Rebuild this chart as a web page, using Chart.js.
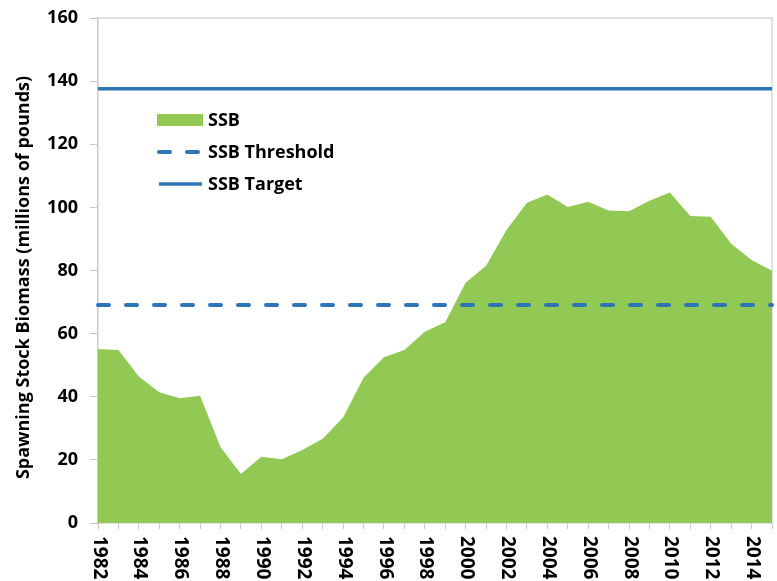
<!DOCTYPE html>
<html>
<head>
<meta charset="utf-8">
<script src="https://cdn.jsdelivr.net/npm/chart.js@4.4.0/dist/chart.umd.min.js"></script>
<style>
  html, body { margin: 0; padding: 0; background: #fff; }
  #wrap { width: 777px; height: 581px; }
</style>
</head>
<body>
<div id="wrap"><canvas id="ssbChart"></canvas></div>
<script>
const years = ['1982','1983','1984','1985','1986','1987','1988','1989','1990','1991','1992','1993','1994','1995','1996','1997','1998','1999','2000','2001','2002','2003','2004','2005','2006','2007','2008','2009','2010','2011','2012','2013','2014','2015'];
const ssb = [55.1,54.8,46.4,41.4,39.5,40.3,24.0,15.5,21.0,20.2,23.1,26.7,33.4,46.0,52.5,54.8,60.6,63.6,76.1,81.5,92.8,101.5,104.1,100.1,101.8,99.0,98.8,102.1,104.7,97.3,97.0,88.5,83.3,79.9];
const ssbThreshold = 69.1;
const ssbTarget = 137.6;
const yTicks = [0,20,40,60,80,100,120,140,160];

const labelFont = 'bold 18px "Open Sans"';
const xFont = 'bold 19px "Open Sans"';
const axisGray = '#c9c9c9';

// x labels read top-to-bottom, Chart.js rotates the other way so draw them here
const xLabelPlugin = {
  id: 'xLabels',
  afterDraw(chart) {
    const ctx = chart.ctx;
    const x = chart.scales.x;
    ctx.save();
    ctx.font = xFont;
    ctx.fillStyle = '#000';
    ctx.textAlign = 'left';
    ctx.textBaseline = 'middle';
    years.forEach((yr, i) => {
      if (i % 2) return;
      ctx.save();
      ctx.translate(x.getPixelForTick(i) + 1, x.top + 13);
      ctx.rotate(Math.PI / 2);
      ctx.fillText(yr, 0, 0);
      ctx.restore();
    });
    ctx.restore();
  }
};

const framePlugin = {
  id: 'frame',
  beforeDatasetsDraw(chart) {
    const a = chart.chartArea;
    const ctx = chart.ctx;
    ctx.save();
    ctx.strokeStyle = '#d9d9d9';
    ctx.lineWidth = 1.5;
    ctx.beginPath();
    ctx.moveTo(a.left, a.top);
    ctx.lineTo(a.right, a.top);
    ctx.lineTo(a.right, a.bottom);
    ctx.stroke();
    ctx.restore();
  }
};

const legendPlugin = {
  id: 'boxLegend',
  afterDraw(chart) {
    const ctx = chart.ctx;
    const x0 = 157, y0 = 120, step = 32;
    ctx.save();
    ctx.font = labelFont;
    ctx.textBaseline = 'middle';
    chart.data.datasets.forEach((ds, i) => {
      const y = y0 + i * step;
      if (ds.fill) {
        ctx.fillStyle = ds.backgroundColor;
        ctx.fillRect(x0, y - 6, 46, 12);
      } else {
        ctx.strokeStyle = ds.borderColor;
        ctx.lineWidth = ds.borderWidth;
        ctx.lineCap = ds.borderCapStyle || 'butt';
        ctx.setLineDash(ds.borderDash || []);
        ctx.beginPath();
        ctx.moveTo(x0 + 2, y);
        ctx.lineTo(x0 + 45, y);
        ctx.stroke();
        ctx.setLineDash([]);
      }
      ctx.fillStyle = '#000';
      ctx.fillText(ds.label, x0 + 51, y + 1);
    });
    ctx.restore();
  }
};

new Chart(document.getElementById('ssbChart'), {
  type: 'line',
  data: {
    labels: years,
    datasets: [{
      label: 'SSB',
      data: ssb,
      fill: 'origin',
      backgroundColor: '#92c955',
      borderWidth: 0,
      pointRadius: 0,
      tension: 0,
      order: 3
    }, {
      label: 'SSB Threshold',
      data: years.map(() => ssbThreshold),
      fill: false,
      borderColor: '#2e75b6',
      borderWidth: 4,
      borderDash: [11, 17],
      borderCapStyle: 'round',
      pointRadius: 0,
      order: 2
    }, {
      label: 'SSB Target',
      data: years.map(() => ssbTarget),
      fill: false,
      borderColor: '#2e75b6',
      borderWidth: 3.5,
      pointRadius: 0,
      order: 1
    }]
  },
  options: {
    responsive: true,
    maintainAspectRatio: false,
    animation: false,
    layout: { padding: { top: 18, right: 5, left: 0, bottom: 0 } },
    plugins: { legend: { display: false }, tooltip: { enabled: false } },
    scales: {
      x: {
        offset: false,
        grid: { drawOnChartArea: false, color: axisGray, tickLength: 6 },
        border: { color: axisGray, width: 1.5 },
        ticks: { autoSkip: false, maxRotation: 0, color: 'rgba(0,0,0,0)', font: { size: 1 } },
        afterFit(scale) { scale.height = 58; scale.paddingLeft = 0; scale.paddingRight = 0; }
      },
      y: {
        min: 0,
        max: 160,
        afterBuildTicks(scale) { scale.ticks = yTicks.map(v => ({ value: v })); },
        grid: { drawOnChartArea: false, color: axisGray, tickLength: 8 },
        border: { color: axisGray, width: 1.5 },
        ticks: { color: '#000', padding: 12, font: { family: 'Open Sans', size: 18, weight: 'bold' } },
        title: {
          display: true,
          text: 'Spawning Stock Biomass (millions of pounds)   ',
          color: '#000',
          padding: { top: 13, bottom: 0 },
          font: { family: 'Open Sans', size: 18, weight: 'bold' }
        },
        afterFit(scale) { scale.width = 98; scale.paddingTop = 0; scale.paddingBottom = 0; }
      }
    }
  },
  plugins: [framePlugin, xLabelPlugin, legendPlugin]
});
</script>
</body>
</html>
